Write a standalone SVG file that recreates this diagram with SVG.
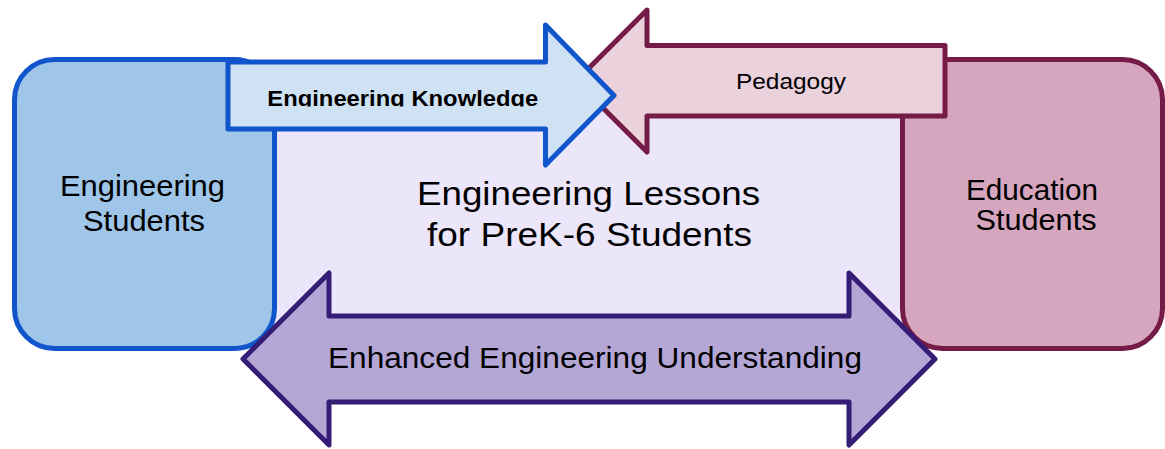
<svg xmlns="http://www.w3.org/2000/svg" width="1165" height="449" viewBox="0 0 1165 449">
<style>
text{font-family:"Liberation Sans",Arial,sans-serif;fill:#000}
.arrow{stroke-width:5;stroke-linejoin:round}
.box{stroke-width:5}
</style>
<defs>
<clipPath id="clipEK"><rect x="228" y="62" width="330" height="44.5"/></clipPath>
</defs>
<rect width="1165" height="449" fill="#ffffff"/>
<g id="lessons">
<rect x="270" y="85" width="640" height="260" fill="#ECE6FA"/>
<text x="588.5" y="205" font-size="33" text-anchor="middle" textLength="343" lengthAdjust="spacingAndGlyphs">Engineering Lessons</text>
<text x="589.5" y="246" font-size="33" text-anchor="middle" textLength="325" lengthAdjust="spacingAndGlyphs">for PreK-6 Students</text>
</g>
<g id="engineering-students">
<rect class="box" x="14.5" y="59.5" width="260" height="289" rx="40" ry="40" fill="#9FC5E8" stroke="#1155CC"/>
<text x="142.5" y="196" font-size="29" text-anchor="middle" textLength="165" lengthAdjust="spacingAndGlyphs">Engineering</text>
<text x="144" y="231" font-size="29" text-anchor="middle" textLength="122" lengthAdjust="spacingAndGlyphs">Students</text>
</g>
<g id="education-students">
<rect class="box" x="902.5" y="59.5" width="260" height="289" rx="40" ry="40" fill="#D5A6BD" stroke="#741B47"/>
<text x="1032" y="200" font-size="29" text-anchor="middle" textLength="132" lengthAdjust="spacingAndGlyphs">Education</text>
<text x="1036" y="230" font-size="29" text-anchor="middle" textLength="121" lengthAdjust="spacingAndGlyphs">Students</text>
</g>
<g id="connectors">
<g id="pedagogy">
<polygon class="arrow" points="945,45.5 647,45.5 647,10 576,81 647,152 647,116 945,116" fill="#EAD1DC" stroke="#741B47"/>
<text x="791" y="89" font-size="22" text-anchor="middle" textLength="110" lengthAdjust="spacingAndGlyphs">Pedagogy</text>
</g>
<g id="engineering-knowledge">
<polygon class="arrow" points="228,62 545.5,62 545.5,25 614,95.5 545.5,165 545.5,129 228,129" fill="#CFE2F3" stroke="#1155CC"/>
<text x="267.3" y="106" font-size="22" font-weight="bold" textLength="271" lengthAdjust="spacingAndGlyphs" clip-path="url(#clipEK)">Engineering Knowledge</text>
</g>
<g id="enhanced-understanding">
<polygon class="arrow" points="243,359 329,273 329,316 849,316 849,273 935,359 849,445 849,402 329,402 329,445" fill="#B4A7D6" stroke="#351C75"/>
<text x="328" y="368" font-size="30" textLength="534" lengthAdjust="spacingAndGlyphs">Enhanced Engineering Understanding</text>
</g>
</g>
</svg>
